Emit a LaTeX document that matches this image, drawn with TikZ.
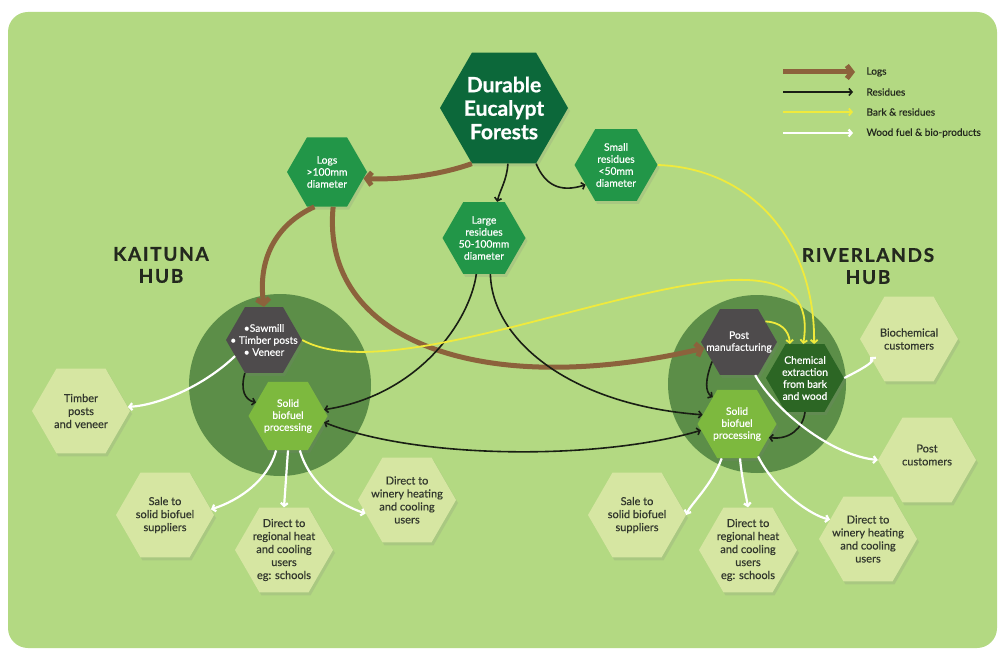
\documentclass[tikz,border=0pt]{standalone}
\usepackage{fontspec}
\setmainfont{Lato}
\newfontfamily\medfont{Lato}[FakeBold=0.5]
\newfontfamily\heavyfont{Lato}[FakeBold=0.8]
\usetikzlibrary{shapes.geometric,arrows.meta,shadows}

\definecolor{panelgreen}{RGB}{179,217,130}
\definecolor{hubgreen}{RGB}{92,142,72}
\definecolor{forestgreen}{RGB}{12,104,58}
\definecolor{sortgreen}{RGB}{34,150,72}
\definecolor{millgrey}{RGB}{78,75,76}
\definecolor{fuelgreen}{RGB}{125,185,62}
\definecolor{chemgreen}{RGB}{44,102,36}
\definecolor{palegreen}{RGB}{214,230,162}
\definecolor{logbrown}{RGB}{140,98,60}
\definecolor{residueblack}{RGB}{25,30,20}
\definecolor{barkyellow}{RGB}{240,234,60}
\definecolor{hubtext}{RGB}{35,40,30}
\definecolor{custtext}{RGB}{50,55,45}

\tikzset{
  hexa/.style={regular polygon, regular polygon sides=6, inner sep=0pt, minimum size=#1,
    drop shadow={shadow xshift=2pt, shadow yshift=-3pt, opacity=0.18}},
  custhex/.style={hexa=98pt, fill=palegreen},
  hubdisc/.style={circle, fill=hubgreen, inner sep=0pt, minimum size=182pt},
  bigtxt/.style={align=center, text=white, font=\heavyfont\bfseries\fontsize{21}{23.5}\selectfont},
  greentxt/.style={align=center, text=white, font=\medfont\fontsize{10.3}{12}\selectfont},
  custtxt/.style={align=center, text=custtext, font=\medfont\fontsize{11}{13}\selectfont},
  hublabel/.style={align=center, text=hubtext, font=\heavyfont\bfseries\fontsize{19}{22}\selectfont\addfontfeature{LetterSpace=9}},
  legtxt/.style={anchor=west, text=hubtext, font=\medfont\fontsize{10}{11}\selectfont},
  logflow/.style={draw=logbrown, line width=5pt, -{Straight Barb[length=5pt,width=13pt]}},
  resflow/.style={draw=residueblack, line width=1.6pt, -{Straight Barb[length=3pt,width=7pt]}},
  barkflow/.style={draw=barkyellow, line width=1.8pt, -{Straight Barb[length=3pt,width=7pt]}},
  fuelflow/.style={draw=white, line width=2.2pt, -{Straight Barb[length=3pt,width=7pt]}}
}

\begin{document}
\begin{tikzpicture}[x=1pt, y=-1pt]
    \useasboundingbox (0,0) rectangle (998,652);
    \fill[white] (0,0) rectangle (998,652);
    \fill[panelgreen, rounded corners=20pt] (8,12) rectangle (997,648);

    % Hubs
    \node[hubdisc] (khub) at (280,385) {};
    \node[hubdisc, minimum size=178pt] (rhub) at (757,384) {};
    \node[hublabel] (kaitunalbl) at (161,265) {KAITUNA\\HUB};
    \node[hublabel] (riverlbl) at (868,266) {RIVERLANDS\\HUB};

    % Forest and sorting
    \node[hexa=128pt, fill=forestgreen, label={[bigtxt]center:{Durable\\Eucalypt\\Forests}}] (forest) at (504,108) {};
    \node[hexa=80pt, fill=sortgreen, label={[greentxt]center:{Logs\\>100mm\\diameter}}] (logs) at (327,172) {};
    \node[hexa=83pt, fill=sortgreen, label={[greentxt]center:{Large\\residues\\50-100mm\\diameter}}] (large) at (484,238) {};
    \node[hexa=83pt, fill=sortgreen, label={[greentxt]center:{Small\\residues\\<50mm\\diameter}}] (small) at (616,165) {};

    % Kaituna hub
    \node[hexa=76pt, fill=millgrey, label={[greentxt]center:{\textbullet Sawmill\\\textbullet\ Timber posts\\\textbullet\ Veneer}}] (mill) at (264,340) {};
    \node[hexa=79pt, fill=fuelgreen, label={[greentxt]center:{Solid\\biofuel\\processing}}] (kfuel) at (288,416) {};
    \node[custhex, label={[custtxt]center:{Timber\\posts\\and veneer}}] (kposts) at (81,411) {};
    \node[custhex, label={[custtxt]center:{Sale to\\solid biofuel\\suppliers}}] (ksale) at (165,515) {};
    \node[custhex, label={[custtxt]center:{Direct to\\regional heat\\and cooling\\users\\eg: schools}}] (kregion) at (284,550) {};
    \node[custhex, label={[custtxt]center:{Direct to\\winery heating\\and cooling\\users}}] (kwinery) at (407,500) {};

    % Riverlands hub
    \node[hexa=76pt, fill=millgrey, label={[greentxt]center:{Post\\manufacturing}}] (post) at (739,342) {};
    \node[hexa=78pt, fill=chemgreen, label={[greentxt]center:{Chemical\\extraction\\from bark\\and wood}}] (chem) at (805,378) {};
    \node[hexa=79pt, fill=fuelgreen, label={[greentxt]center:{Solid\\biofuel\\processing}}] (rfuel) at (737,424) {};
    \node[custhex, label={[custtxt]center:{Biochemical\\customers}}] (biochem) at (909,339) {};
    \node[custhex, label={[custtxt, yshift=5pt]center:{Post\\customers}}] (postcust) at (927,460) {};
    \node[custhex, label={[custtxt]center:{Sale to\\solid biofuel\\suppliers}}] (rsale) at (637,515) {};
    \node[custhex, label={[custtxt]center:{Direct to\\regional heat\\and cooling\\users\\eg: schools}}] (rregion) at (748,550) {};
    \node[custhex, label={[custtxt]center:{Direct to\\winery heating\\and cooling\\users}}] (rwinery) at (868,539) {};

    % Logs
    \draw[logflow] (forest.240) .. controls (440,175) and (400,180) .. (logs.-10);
    \draw[logflow] (logs.250) .. controls (275,225) and (258,260) .. (mill.north);
    \draw[logflow] (logs.280) .. controls (320,340) and (480,400) .. (post.190);

    % Residues
    \draw[resflow] (forest.-86) .. controls (507,180) and (500,190) .. (large.70);
    \draw[resflow] (forest.-60) .. controls (545,185) and (560,193) .. (small.213);
    \draw[resflow] (large.258) .. controls (470,320) and (420,395) .. (kfuel.10);
    \draw[resflow] (large.280) .. controls (492,340) and (570,405) .. (rfuel.165);
    \draw[resflow, {Straight Barb[length=3pt,width=7pt]}-{Straight Barb[length=3pt,width=7pt]}] (kfuel.-10) .. controls (420,460) and (600,460) .. (rfuel.190);
    \draw[resflow] (mill.240) .. controls (240,390) and (245,400) .. (kfuel.157);
    \draw[resflow] (post.216) .. controls (705,380) and (705,392) .. (rfuel.132);
    \draw[resflow] (chem.south) .. controls (803,428) and (790,440) .. (rfuel.-23);

    % Bark and residues
    \draw[barkflow] (small.east) .. controls (750,168) and (815,240) .. (chem.75);
    \draw[barkflow] (mill.east) .. controls (420,405) and (830,175) .. (chem.93);
    \draw[barkflow] (post.38) .. controls (780,322) and (789,330) .. (chem.114);

    % Wood fuel and bio-products
    \draw[fuelflow] (mill.209) .. controls (205,385) and (160,405) .. (kposts.5);
    \draw[fuelflow] (kfuel.251) .. controls (268,480) and (240,500) .. (ksale.7);
    \draw[fuelflow] (kfuel.-90) -- (kregion.north);
    \draw[fuelflow] (kfuel.-71) .. controls (310,485) and (340,505) .. (kwinery.198);
    \draw[fuelflow] (chem.east) .. controls (860,370) and (875,362) .. (biochem.205);
    \draw[fuelflow] (post.-64) .. controls (775,410) and (830,455) .. (postcust.west);
    \draw[fuelflow] (rfuel.246) .. controls (712,485) and (690,505) .. (rsale.east);
    \draw[fuelflow] (rfuel.-85) .. controls (742,480) and (746,495) .. (rregion.north);
    \draw[fuelflow] (rfuel.-57) .. controls (775,490) and (810,515) .. (rwinery.153);

    % Legend
    \node[legtxt] (keylogs) at (863,72) {Logs};
    \node[legtxt] (keyres) at (863,92) {Residues};
    \node[legtxt] (keybark) at (863,112) {Bark \& residues};
    \node[legtxt] (keyfuel) at (863,133) {Wood fuel \& bio-products};
    \draw[logflow] ([xshift=-80pt]keylogs.west) -- ([xshift=-8pt]keylogs.west);
    \draw[resflow] ([xshift=-80pt]keyres.west) -- ([xshift=-10pt]keyres.west);
    \draw[barkflow] ([xshift=-80pt]keybark.west) -- ([xshift=-10pt]keybark.west);
    \draw[fuelflow] ([xshift=-80pt]keyfuel.west) -- ([xshift=-10pt]keyfuel.west);
\end{tikzpicture}
\end{document}
